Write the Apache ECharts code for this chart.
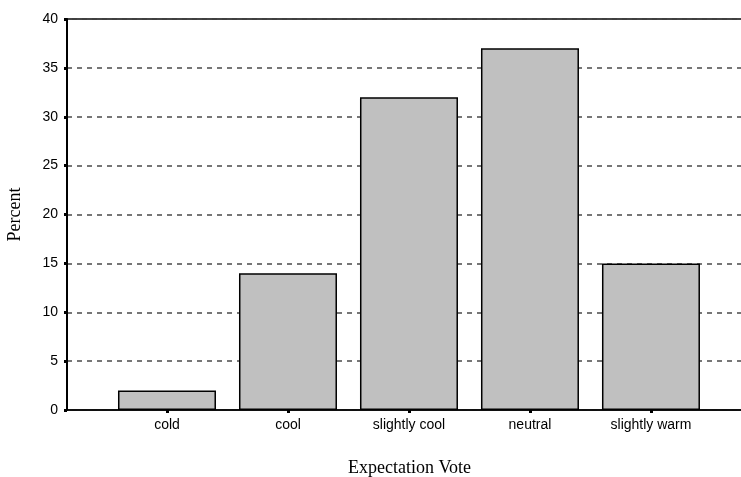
<!DOCTYPE html>
<html>
<head>
<meta charset="utf-8">
<script src="https://cdn.jsdelivr.net/npm/echarts@6/dist/echarts.min.js"></script>
<style>
html,body{margin:0;padding:0;background:#fff;}
#chart{width:741px;height:477px;}
</style>
</head>
<body>
<div id="chart"></div>
<script>
var categories = ['cold', 'cool', 'slightly cool', 'neutral', 'slightly warm'];
var percents = [2, 14, 32, 37, 15];
var yTicks = [0, 5, 10, 15, 20, 25, 30, 35, 40];

var chart = echarts.init(document.getElementById('chart'), null, {renderer: 'canvas'});
var barData = categories.map(function (c, i) { return [i, percents[i]]; });
var catIdx = categories.map(function (c, i) { return i; });

chart.setOption({
  animation: false,
  backgroundColor: '#fff',
  grid: {left: 67, top: 19, width: 685, height: 391, containLabel: false, outerBoundsMode: 'none', show: true, borderColor: '#000', borderWidth: 1.5, backgroundColor: 'transparent'},
  xAxis: {
    type: 'value',
    min: -0.8264,
    max: 4.835,
    name: 'Expectation Vote',
    nameLocation: 'middle',
    nameGap: 49,
    nameTextStyle: {fontFamily: 'Liberation Serif', fontSize: 18, color: '#000'},
    axisLine: {show: true, onZero: false, lineStyle: {color: '#000', width: 1.5}},
    axisTick: {show: true, customValues: catIdx, length: 3, inside: false, lineStyle: {color: '#000', width: 3}},
    axisLabel: {
      customValues: catIdx,
      margin: 8,
      fontFamily: 'Liberation Sans',
      fontSize: 14,
      color: '#000',
      formatter: function (v) { return categories[Math.round(v)] || ''; }
    },
    splitLine: {show: false}
  },
  yAxis: {
    type: 'value',
    min: yTicks[0],
    max: yTicks[yTicks.length - 1],
    interval: 5,
    name: 'Percent',
    nameLocation: 'middle',
    nameGap: 43,
    nameRotate: 90,
    nameTextStyle: {fontFamily: 'Liberation Serif', fontSize: 18, color: '#000'},
    axisLine: {show: true, onZero: false, lineStyle: {color: '#000', width: 2}},
    axisTick: {show: true, length: 3, lineStyle: {color: '#000', width: 3}},
    axisLabel: {margin: 9, fontFamily: 'Liberation Sans', fontSize: 14, color: '#000'},
    splitLine: {show: true, lineStyle: {color: '#4a4a4a', width: 1.5, type: [5, 5]}}
  },
  series: [{
    type: 'bar',
    data: barData,
    barWidth: 98,
    itemStyle: {color: '#c0c0c0', borderColor: '#000', borderWidth: 1.5},
    z: 3
  }]
});
</script>
</body>
</html>
